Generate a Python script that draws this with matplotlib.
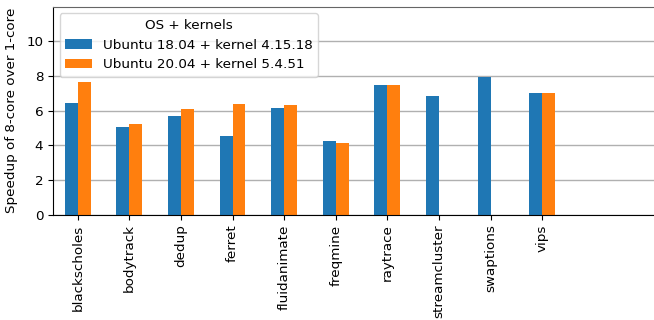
import matplotlib.pyplot as plt
import numpy as np

# Speedup dell'esecuzione a 8 core rispetto a 1 core, benchmark PARSEC
benchmarks = [
    "blackscholes", "bodytrack", "dedup", "ferret", "fluidanimate",
    "freqmine", "raytrace", "streamcluster", "swaptions", "vips",
]
ubuntu_1804 = [6.46, 5.07, 5.70, 4.55, 6.17, 4.26, 7.49, 6.86, 7.95, 7.03]
ubuntu_2004 = [7.67, 5.24, 6.11, 6.40, 6.34, 4.15, 7.49, np.nan, np.nan, 7.03]
series_labels = [
    "Ubuntu 18.04 + kernel 4.15.18",
    "Ubuntu 20.04 + kernel 5.4.51",
]

BAR_WIDTH = 0.25

plt.rcParams["font.size"] = 9.7

fig = plt.figure(figsize=(6.54, 3.2), dpi=100)
ax = fig.add_axes([53 / 654, 0.329, 644 / 654, 0.650])

x = np.arange(len(benchmarks))

ax.bar(x - BAR_WIDTH / 2, ubuntu_1804, BAR_WIDTH,
       color="#1f77b4", label=series_labels[0], zorder=2)
ax.bar(x + BAR_WIDTH / 2, ubuntu_2004, BAR_WIDTH,
       color="#ff7f0e", label=series_labels[1], zorder=2)

ax.set_xlim(-0.48, 12.0)
ax.set_ylim(0, 12)
ax.set_yticks([0, 2, 4, 6, 8, 10])
ax.set_xticks(x)
ax.set_xticklabels(benchmarks, rotation=90)

ax.yaxis.grid(True, color="#b0b0b0", linewidth=1.0, zorder=0)
ax.set_axisbelow(True)
ax.spines["top"].set_color("#666666")

ax.set_ylabel("Speedup of 8-core over 1-core", labelpad=6)

ax.legend(title="OS + kernels", loc="upper left")

fig.savefig("out.png", dpi=100)
plt.close(fig)
